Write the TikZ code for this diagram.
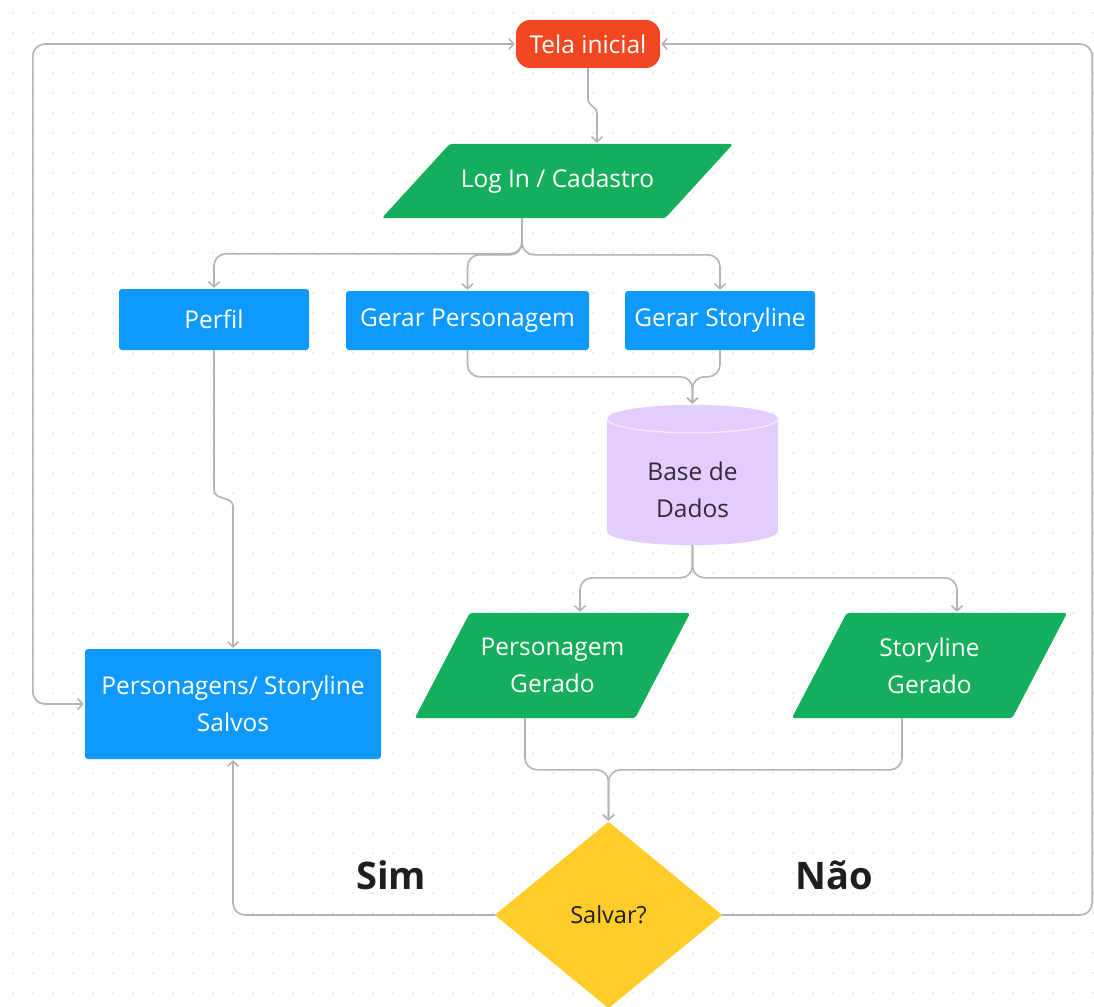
\documentclass[tikz,border=0pt]{standalone}
\usepackage{fontspec}
\setmainfont{Open Sans}
\usetikzlibrary{arrows.meta}
\definecolor{tred}{HTML}{F24822}
\definecolor{tgreen}{HTML}{14AE5C}
\definecolor{tblue}{HTML}{0D99FF}
\definecolor{tlav}{HTML}{E4CCFF}
\definecolor{tlavline}{HTML}{F3E8FF}
\definecolor{tyel}{HTML}{FFCD29}
\definecolor{tline}{HTML}{B3B3B3}
\definecolor{tdot}{HTML}{E2E2E2}
\definecolor{tdark}{HTML}{1E1E1E}
\definecolor{tdbtext}{HTML}{2F2A38}
\pgfdeclarelayer{background}
\pgfsetlayers{background,main}
\begin{document}
\begin{tikzpicture}[x=1pt,y=-1pt,
  lbl/.style={font=\fontsize{24.5}{37}\selectfont, align=center, inner sep=0pt},
  box/.style={lbl, fill=tblue, text=white, rounded corners=3pt},
  io/.style={lbl, text=white},
  conn/.style={draw=tline, line width=1.6pt, rounded corners=12pt, -{Straight Barb[length=5pt,width=11pt]}, shorten >=1pt},
  big/.style={font=\fontsize{38}{44}\selectfont\bfseries, text=tdark, inner sep=0pt}
]
\useasboundingbox (0,0) rectangle (1094,1006);

% nodes
\node[lbl, fill=tred, text=white, rounded corners=14pt, minimum width=144pt, minimum height=48pt] (tela) at (588,44) {Tela inicial};
\node[io, minimum width=351pt, minimum height=74pt] (login) at (557.5,181) {Log In / Cadastro};
\node[box, minimum width=190pt, minimum height=61pt] (perfil) at (214,319.5) {Perfil};
\node[box, minimum width=243pt, minimum height=59pt] (gerp) at (467.5,320.5) {Gerar Personagem};
\node[box, minimum width=190pt, minimum height=59pt] (gers) at (720,320.5) {Gerar Storyline};
\node[inner sep=0pt, minimum width=171pt, minimum height=140pt] (db) at (692.5,475) {};
\node[lbl, text=tdbtext] (dbl) at (692.5,490) {Base de\\Dados};
\node[io, minimum width=275pt, minimum height=105pt] (pg) at (552.5,665.5) {Personagem\\Gerado};
\node[io, minimum width=275pt, minimum height=105pt] (sg) at (929.5,665.5) {Storyline\\Gerado};
\node[box, minimum width=296pt, minimum height=110pt] (salvos) at (233,704) {Personagens/ Storyline\\Salvos};
\node[lbl, text=tdark, minimum width=227pt, minimum height=186pt, font=\fontsize{23.5}{28}\selectfont] (dec) at (608.5,915) {Salvar?};
\node[big] (sim) at (391,875) {Sim};
\node[big] (nao) at (834,875) {Não};

% background shapes
\begin{pgfonlayer}{background}
\fill[white] (0,0) rectangle (1094,1006);
\foreach \i in {0,...,54}{\foreach \j in {0,...,49}{\fill[tdot] (13+20*\i,13+20*\j) circle (1pt);}}
\fill[tgreen, rounded corners=3pt] ([xshift=68pt]login.north west) -- (login.north east) -- ([xshift=-68pt]login.south east) -- (login.south west) -- cycle;
\fill[tgreen, rounded corners=3pt] ([xshift=55pt]pg.north west) -- (pg.north east) -- ([xshift=-55pt]pg.south east) -- (pg.south west) -- cycle;
\fill[tgreen, rounded corners=3pt] ([xshift=55pt]sg.north west) -- (sg.north east) -- ([xshift=-55pt]sg.south east) -- (sg.south west) -- cycle;
\fill[tyel] (dec.north) -- (dec.east) -- (dec.south) -- (dec.west) -- cycle;
\fill[tlav] ([yshift=-14pt]db.north west) -- ([yshift=14pt]db.south west)
  arc[start angle=180, end angle=360, x radius=85.5pt, y radius=14pt]
  -- ([yshift=-14pt]db.north east)
  arc[start angle=0, end angle=180, x radius=85.5pt, y radius=14pt] -- cycle;
\draw[tlavline, line width=1.4pt] ([yshift=-14pt]db.north west)
  arc[start angle=180, end angle=360, x radius=85.5pt, y radius=14pt];
\end{pgfonlayer}

% connectors
\draw[conn, sharp corners] (tela.south) -- ++(0,30) .. controls +(0,9) and +(0,-9) .. ++(9,16) -- ([xshift=39.5pt]login.north);
\draw[conn] ([xshift=-35.5pt]login.south) |- ([yshift=35pt]perfil.north) -- (perfil.north);
\draw[conn] ([xshift=-35.5pt]login.south) |- ([yshift=36pt]gerp.north) -- (gerp.north);
\draw[conn] ([xshift=-35.5pt]login.south) |- ([yshift=36pt]gers.north) -- (gers.north);
\draw[conn, sharp corners] (perfil.south) -- ++(0,140) .. controls +(0,10) and +(0,-10) .. ++(19,16) -- (salvos.north);
\draw[conn] (gerp.south) |- ([yshift=28pt]db.north) -- (db.north);
\draw[conn] (gers.south) |- ([yshift=28pt]db.north) -- (db.north);
\draw[conn] (db.south) |- ([xshift=27.5pt,yshift=35pt]pg.north) -- ([xshift=27.5pt]pg.north);
\draw[conn] (db.south) |- ([xshift=27.5pt,yshift=35pt]sg.north) -- ([xshift=27.5pt]sg.north);
\draw[conn] ([xshift=-27.5pt]pg.south) |- ([yshift=52pt]dec.north) -- (dec.north);
\draw[conn] ([xshift=-27.5pt]sg.south) |- ([yshift=52pt]dec.north) -- (dec.north);
\draw[conn] (dec.west) -| (salvos.south);
\draw[conn] (dec.east) -- ++(370,0) |- (tela.east);
\draw[conn, {Straight Barb[length=5pt,width=11pt]}-{Straight Barb[length=5pt,width=11pt]}, shorten <=1pt] (tela.west) -- ++(-483,0) |- (salvos.west);
\end{tikzpicture}
\end{document}
